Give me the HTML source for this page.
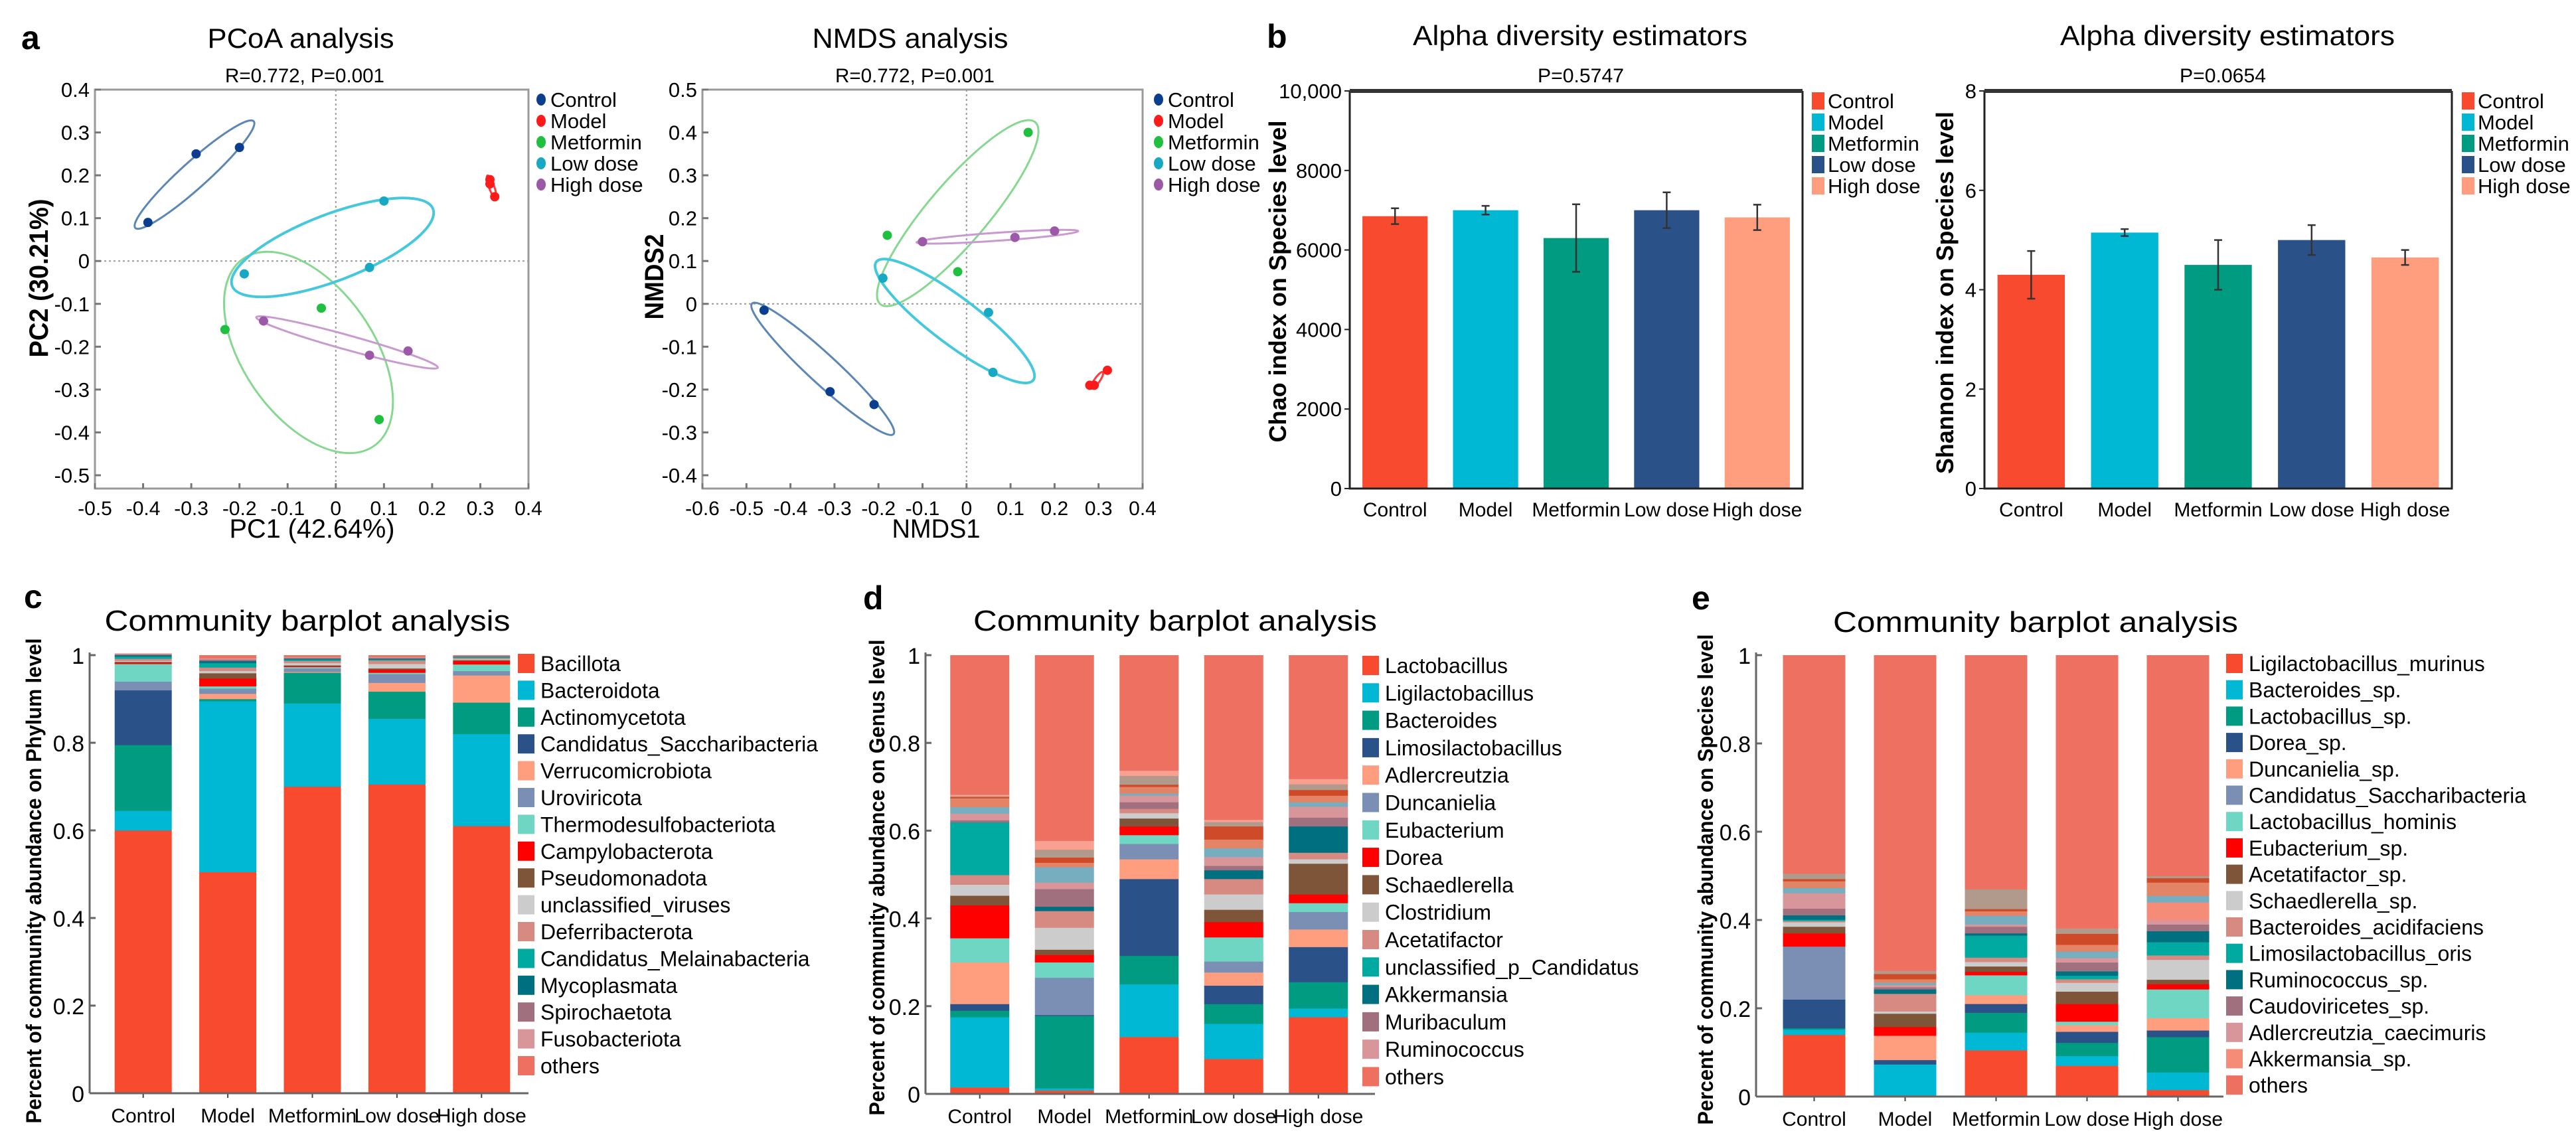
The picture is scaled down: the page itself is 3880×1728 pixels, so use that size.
<!DOCTYPE html>
<html><head><meta charset="utf-8">
<style>
html,body{margin:0;padding:0;background:#fff;}
svg{display:block;font-family:"Liberation Sans",Arial,sans-serif;}
</style></head>
<body>
<svg id="fig" width="3880" height="1728" viewBox="0 0 3880 1728" xmlns="http://www.w3.org/2000/svg">
<rect x="0" y="0" width="3880" height="1728" fill="#fff"/>
<text x="32" y="74" font-size="50" font-weight="bold">a</text>
<text x="1908" y="72" font-size="50" font-weight="bold">b</text>
<text x="36" y="916" font-size="50" font-weight="bold">c</text>
<text x="1300" y="918" font-size="50" font-weight="bold">d</text>
<text x="2548" y="918" font-size="50" font-weight="bold">e</text>
<text x="453" y="72" font-size="42" text-anchor="middle" textLength="281" lengthAdjust="spacingAndGlyphs">PCoA analysis</text>
<text x="459" y="124" font-size="30" text-anchor="middle" textLength="240" lengthAdjust="spacingAndGlyphs">R=0.772, P=0.001</text>
<text x="470" y="810" font-size="40" text-anchor="middle" textLength="249" lengthAdjust="spacingAndGlyphs">PC1 (42.64%)</text>
<text transform="translate(72,419) rotate(-90)" font-size="40" font-weight="bold" text-anchor="middle" textLength="239" lengthAdjust="spacingAndGlyphs">PC2 (30.21%)</text>
<text x="1371" y="72" font-size="42" text-anchor="middle" textLength="295" lengthAdjust="spacingAndGlyphs">NMDS analysis</text>
<text x="1378" y="124" font-size="30" text-anchor="middle" textLength="240" lengthAdjust="spacingAndGlyphs">R=0.772, P=0.001</text>
<text x="1410" y="810" font-size="40" text-anchor="middle" textLength="133" lengthAdjust="spacingAndGlyphs">NMDS1</text>
<text transform="translate(999,417) rotate(-90)" font-size="40" font-weight="bold" text-anchor="middle" textLength="129" lengthAdjust="spacingAndGlyphs">NMDS2</text>
<text x="2380" y="68" font-size="42" text-anchor="middle" textLength="504" lengthAdjust="spacingAndGlyphs">Alpha diversity estimators</text>
<text x="2381" y="124" font-size="30" text-anchor="middle" textLength="130" lengthAdjust="spacingAndGlyphs">P=0.5747</text>
<text transform="translate(1937,424) rotate(-90)" font-size="36" font-weight="bold" text-anchor="middle" textLength="485" lengthAdjust="spacingAndGlyphs">Chao index on Species level</text>
<text x="3355" y="68" font-size="42" text-anchor="middle" textLength="504" lengthAdjust="spacingAndGlyphs">Alpha diversity estimators</text>
<text x="3348" y="124" font-size="30" text-anchor="middle" textLength="130" lengthAdjust="spacingAndGlyphs">P=0.0654</text>
<text transform="translate(2942,441) rotate(-90)" font-size="36" font-weight="bold" text-anchor="middle" textLength="546" lengthAdjust="spacingAndGlyphs">Shannon index on Species level</text>
<text x="463" y="950" font-size="44" text-anchor="middle" textLength="611" lengthAdjust="spacingAndGlyphs">Community barplot analysis</text>
<text transform="translate(62,1327) rotate(-90)" font-size="32" font-weight="bold" text-anchor="middle" textLength="731" lengthAdjust="spacingAndGlyphs">Percent of community abundance on Phylum level</text>
<text x="1770" y="950" font-size="44" text-anchor="middle" textLength="608" lengthAdjust="spacingAndGlyphs">Community barplot analysis</text>
<text transform="translate(1332,1322) rotate(-90)" font-size="32" font-weight="bold" text-anchor="middle" textLength="717" lengthAdjust="spacingAndGlyphs">Percent of community abundance on Genus level</text>
<text x="3066" y="952" font-size="44" text-anchor="middle" textLength="610" lengthAdjust="spacingAndGlyphs">Community barplot analysis</text>
<text transform="translate(2580,1325) rotate(-90)" font-size="32" font-weight="bold" text-anchor="middle" textLength="739" lengthAdjust="spacingAndGlyphs">Percent of community abundance on Species level</text>
<g id="pcoa"></g>
<g id="nmds"></g>
<g id="chao"></g>
<g id="shannon"></g>
<g id="phylum"></g>
<g id="genus"></g>
<g id="species"></g>
</svg>
<script>
const groups = ["Control","Model","Metformin","Low dose","High dose"];
const pcoaX = [[-0.39,-0.29,-0.20],[0.32,0.33,0.32],[-0.23,-0.03,0.09],[-0.19,0.07,0.10],[-0.15,0.07,0.15]];
const pcoaY = [[0.09,0.25,0.265],[0.18,0.15,0.19],[-0.16,-0.11,-0.37],[-0.03,-0.015,0.14],[-0.14,-0.22,-0.21]];
const nmdsX = [[-0.46,-0.31,-0.21],[0.29,0.32,0.28],[-0.18,-0.02,0.14],[-0.19,0.05,0.06],[-0.10,0.11,0.20]];
const nmdsY = [[-0.015,-0.205,-0.235],[-0.19,-0.155,-0.19],[0.16,0.075,0.40],[0.06,-0.02,-0.16],[0.145,0.155,0.17]];
const pcoaXTicks = [-0.5,-0.4,-0.3,-0.2,-0.1,0,0.1,0.2,0.3,0.4];
const pcoaYTicks = [0.4,0.3,0.2,0.1,0,-0.1,-0.2,-0.3,-0.4,-0.5];
const nmdsXTicks = [-0.6,-0.5,-0.4,-0.3,-0.2,-0.1,0,0.1,0.2,0.3,0.4];
const nmdsYTicks = [0.5,0.4,0.3,0.2,0.1,0,-0.1,-0.2,-0.3,-0.4];

const chaoMean = [6850,7000,6300,7000,6820];
const chaoErr = [200,110,850,450,320];
const chaoTicks = [0,2000,4000,6000,8000,10000];
const chaoTickLabels = ["0","2000","4000","6000","8000","10,000"];
const shannonMean = [4.30,5.15,4.50,5.00,4.65];
const shannonErr = [0.48,0.07,0.50,0.30,0.15];
const shannonTicks = [0,2,4,6,8];

const stackTicks = [0,0.2,0.4,0.6,0.8,1];
const stackTickLabels = ["0","0.2","0.4","0.6","0.8","1"];

const phylumNames = ["Bacillota","Bacteroidota","Actinomycetota","Candidatus_Saccharibacteria","Verrucomicrobiota","Uroviricota","Thermodesulfobacteriota","Campylobacterota","Pseudomonadota","unclassified_viruses","Deferribacterota","Candidatus_Melainabacteria","Mycoplasmata","Spirochaetota","Fusobacteriota"];
const phylumValues = [
 [0.600,0.505,0.700,0.705,0.610],
 [0.045,0.390,0.190,0.150,0.210],
 [0.150,0.005,0.070,0.062,0.072],
 [0.125,0.000,0.000,0.000,0.000],
 [0.000,0.012,0.002,0.020,0.062],
 [0.020,0.012,0.008,0.020,0.010],
 [0.040,0.005,0.003,0.003,0.015],
 [0.003,0.018,0.002,0.007,0.008],
 [0.002,0.012,0.002,0.003,0.002],
 [0.002,0.005,0.005,0.010,0.002],
 [0.005,0.008,0.005,0.008,0.003],
 [0.005,0.010,0.003,0.002,0.002],
 [0.003,0.005,0.002,0.002,0.001],
 [0.002,0.003,0.002,0.002,0.001],
 [0.002,0.003,0.002,0.002,0.001]];

const genusNames = ["Lactobacillus","Ligilactobacillus","Bacteroides","Limosilactobacillus","Adlercreutzia","Duncanielia","Eubacterium","Dorea","Schaedlerella","Clostridium","Acetatifactor","unclassified_p_Candidatus","Akkermansia","Muribaculum","Ruminococcus"];
const genusValues = [
 [0.015,0.008,0.130,0.080,0.175],
 [0.160,0.005,0.120,0.080,0.020],
 [0.015,0.165,0.065,0.045,0.060],
 [0.015,0.002,0.175,0.042,0.080],
 [0.095,0.000,0.045,0.030,0.040],
 [0.000,0.085,0.035,0.025,0.040],
 [0.055,0.035,0.020,0.055,0.020],
 [0.075,0.017,0.020,0.035,0.020],
 [0.022,0.012,0.018,0.028,0.070],
 [0.025,0.050,0.012,0.035,0.010],
 [0.022,0.038,0.010,0.035,0.015],
 [0.120,0.000,0.000,0.000,0.000],
 [0.000,0.010,0.000,0.020,0.060],
 [0.005,0.040,0.015,0.010,0.020],
 [0.015,0.015,0.015,0.020,0.025]];
const genusMinor = [
 [0.015,0.035,0.005,0.020,0.010],
 [0.020,0.010,0.015,0.020,0.015],
 [0.003,0.012,0.005,0.030,0.013],
 [0.002,0.018,0.020,0.010,0.013],
 [0.003,0.020,0.012,0.005,0.012]];

const speciesNames = ["Ligilactobacillus_murinus","Bacteroides_sp.","Lactobacillus_sp.","Dorea_sp.","Duncanielia_sp.","Candidatus_Saccharibacteria","Lactobacillus_hominis","Eubacterium_sp.","Acetatifactor_sp.","Schaedlerella_sp.","Bacteroides_acidifaciens","Limosilactobacillus_oris","Ruminococcus_sp.","Caudoviricetes_sp.","Adlercreutzia_caecimuris","Akkermansia_sp."];
const speciesValues = [
 [0.140,0.003,0.105,0.070,0.015],
 [0.012,0.070,0.040,0.022,0.040],
 [0.003,0.000,0.045,0.030,0.080],
 [0.065,0.010,0.020,0.025,0.015],
 [0.000,0.055,0.020,0.015,0.028],
 [0.120,0.000,0.000,0.000,0.000],
 [0.000,0.000,0.045,0.008,0.065],
 [0.030,0.020,0.008,0.040,0.012],
 [0.015,0.030,0.012,0.028,0.010],
 [0.010,0.005,0.010,0.020,0.045],
 [0.003,0.040,0.010,0.008,0.010],
 [0.003,0.000,0.050,0.008,0.030],
 [0.010,0.010,0.005,0.010,0.025],
 [0.015,0.005,0.015,0.020,0.015],
 [0.035,0.005,0.005,0.010,0.010],
 [0.000,0.000,0.000,0.000,0.040]];
const speciesMinor = [
 [0.012,0.005,0.020,0.015,0.015],
 [0.015,0.008,0.010,0.015,0.030],
 [0.005,0.012,0.005,0.025,0.010],
 [0.012,0.007,0.045,0.012,0.005]];

const ptColors = ["#0b3e8e","#ff1a1a","#1fbf3f","#17a8c4","#9b59a8"];
const ellColors = ["#5b86b5","#ff3a3a","#86d890","#45c8dc","#c99ad0"];
const barColors = ["#f84a2f","#00b8d4","#009b80","#2a5288","#ff9e7f"];
const taxColors = ["#f84a2f","#00b8d4","#009b80","#2a5288","#ff9e7f","#7b8fb5","#6fd6c4","#ff0000","#7f5539","#cccccc","#d68a82","#00aaa0","#007080","#a0707f","#d8959a","#f58c78"];
const minorColors = ["#77aebf","#e38467","#cf4a28","#b1998b","#f9a090"];
const othersColor = "#ee7060";
const NS = "http://www.w3.org/2000/svg";
function mk(tag, parent, a){const e=document.createElementNS(NS,tag);for(const k in a)e.setAttribute(k,a[k]);parent.appendChild(e);return e;}

function scatter(gid, xs, ys, xT, yT, c, ell){
  const g=document.getElementById(gid);
  const sx=v=>c.x0+(v-c.xmin)/(c.xmax-c.xmin)*(c.x1-c.x0);
  const sy=v=>c.y0+(c.ymax-v)/(c.ymax-c.ymin)*(c.y1-c.y0);
  let f=mk('rect',g,{x:c.x0,y:c.y0,width:c.x1-c.x0,height:c.y1-c.y0,fill:'none',stroke:'#9a9a9a','stroke-width':3});
  
  
  let zx=mk('line',g,{x1:c.x0,x2:c.x1,y1:sy(0),y2:sy(0),stroke:'#999','stroke-width':2,'stroke-dasharray':'3,4'});
  
  
  let zy=mk('line',g,{x1:sx(0),x2:sx(0),y1:c.y0,y2:c.y1,stroke:'#999','stroke-width':2,'stroke-dasharray':'3,4'});
  
  
  xT.forEach(v=>{
    const t=mk('line',g,{x1:sx(v),x2:sx(v),y1:c.y1,y2:c.y1-8,stroke:'#777','stroke-width':3});
    
    
    const l=mk('text',g,{x:sx(v),y:c.y1+40,'font-size':30,'text-anchor':'middle'});
    l.textContent=String(v);
    
    
  });
  yT.forEach(v=>{
    const t=mk('line',g,{x1:c.x0,x2:c.x0+9,y1:sy(v),y2:sy(v),stroke:'#777','stroke-width':3});
    
    
    const l=mk('text',g,{x:c.x0-8,y:sy(v)+11,'font-size':31,'text-anchor':'end'});
    l.textContent=String(v);
    
    
  });
  groups.forEach((gn,i)=>{
    const mx=xs[i].reduce((a,b)=>a+b,0)/xs[i].length, my=ys[i].reduce((a,b)=>a+b,0)/ys[i].length;
    const cx=sx(mx), cy=sy(my);
    const e=mk('ellipse',g,{cx:cx,cy:cy,rx:ell.rx[i],ry:ell.ry[i],fill:'none',stroke:ellColors[i],'stroke-width':i==3?4:3,transform:`rotate(${ell.ang[i]} ${cx} ${cy})`});
    
    
  });
  groups.forEach((gn,i)=>{
    xs[i].forEach((v,j)=>{
      const p=mk('circle',g,{cx:sx(v),cy:sy(ys[i][j]),r:7,fill:ptColors[i]});
      
      
    });
  });
  groups.forEach((gn,i)=>{
    const y=c.ly+i*32;
    const d=mk('ellipse',g,{cx:c.lx,cy:y,rx:7,ry:9,fill:ptColors[i]});
    
    
    const t=mk('text',g,{x:c.lx+14,y:y+11,'font-size':31});
    t.textContent=gn;
    
    
  });
}
scatter('pcoa',pcoaX,pcoaY,pcoaXTicks,pcoaYTicks,
  {x0:143,x1:796,y0:135,y1:736,xmin:-0.5,xmax:0.4,ymin:-0.531,ymax:0.4,lx:815,ly:150},
  {rx:[120,18,172,162,142],ry:[20,4,98,50,11],ang:[-42,70,55,-21,15.5]});
scatter('nmds',nmdsX,nmdsY,nmdsXTicks,nmdsYTicks,
  {x0:1058,x1:1721,y0:135,y1:736,xmin:-0.6,xmax:0.4,ymin:-0.431,ymax:0.5,lx:1745,ly:150},
  {rx:[145,15,180,148,122],ry:[22,4,45,35,6],ang:[42.7,-55,-49.6,37,-4]});

function bars(gid, mean, err, ticks, tickLabels, c){
  const g=document.getElementById(gid);
  const sy=v=>c.y1-(v-c.ymin)/(c.ymax-c.ymin)*(c.y1-c.y0);
  const step=(c.x1-c.x0)/groups.length, bw=step*0.72;
  groups.forEach((gn,i)=>{
    const cx=c.x0+step*(i+0.5);
    const b=mk('rect',g,{x:cx-bw/2,y:sy(mean[i]),width:bw,height:sy(c.ymin)-sy(mean[i]),fill:barColors[i]});
    
    
    const e=mk('path',g,{d:`M${cx},${sy(mean[i]-err[i])}V${sy(mean[i]+err[i])}M${cx-6},${sy(mean[i]-err[i])}h12M${cx-6},${sy(mean[i]+err[i])}h12`,stroke:'#333','stroke-width':2.5,fill:'none'});
    
    
    const l=mk('text',g,{x:cx,y:c.y1+42,'font-size':30,'text-anchor':'middle'});
    l.textContent=gn;
    
    
  });
  let f=mk('path',g,{d:`M${c.x0},${c.y0}V${c.y1}H${c.x1}V${c.y0}`,fill:'none',stroke:'#222','stroke-width':3});
  
  
  let top=mk('line',g,{x1:c.x0,x2:c.x1,y1:c.y0,y2:c.y0,stroke:'#333','stroke-width':6});
  
  
  ticks.forEach((v,k)=>{
    const t=mk('line',g,{x1:c.x0,x2:c.x0-8,y1:sy(v),y2:sy(v),stroke:'#222','stroke-width':2});
    
    
    const l=mk('text',g,{x:c.x0-12,y:sy(v)+11,'font-size':31,'text-anchor':'end'});
    l.textContent=tickLabels[k];
    
    
  });
  groups.forEach((gn,i)=>{
    const y=c.ly+i*32;
    const s=mk('rect',g,{x:c.lx,y:y-13,width:19,height:26,fill:barColors[i]});
    
    
    const t=mk('text',g,{x:c.lx+24,y:y+11,'font-size':31});
    t.textContent=gn;
    
    
  });
}
bars('chao',chaoMean,chaoErr,chaoTicks,chaoTickLabels,{x0:2033,x1:2715,y0:137,y1:736,ymin:0,ymax:10000,lx:2729,ly:152});
bars('shannon',shannonMean,shannonErr,shannonTicks,shannonTicks.map(String),{x0:2989,x1:3693,y0:137,y1:736,ymin:0,ymax:8,lx:3708,ly:152});

function stacked(gid, names, values, minor, c){
  const g=document.getElementById(gid);
  const sy=v=>c.y1-v*(c.y1-c.y0);
  const step=c.step, bw=c.bw;
  groups.forEach((gn,i)=>{
    const cx=c.bx+step*(i+0.5);
    let acc=0;
    const segs=[];
    values.forEach((row,k)=>segs.push([row[i],taxColors[k],names[k]]));
    minor.forEach((row,k)=>segs.push([row[i],minorColors[k],'minor-taxon']));
    const tot=segs.reduce((a,s)=>a+s[0],0);
    segs.push([Math.max(0,1-tot),othersColor,'others']);
    segs.forEach(s=>{
      if(s[0]<=0) return;
      const r=mk('rect',g,{x:cx-bw/2,y:sy(acc+s[0]),width:bw,height:sy(acc)-sy(acc+s[0])+0.3,fill:s[1]});
      
      
      acc+=s[0];
    });
    const t=mk('line',g,{x1:cx,x2:cx,y1:c.y1,y2:c.y1+7,stroke:'#444','stroke-width':2});
    
    
    const l=mk('text',g,{x:cx,y:c.y1+44,'font-size':30,'text-anchor':'middle'});
    l.textContent=gn;
    
    
  });
  let ax=mk('line',g,{x1:c.ax,x2:c.ax,y1:c.y0-4,y2:c.y1,stroke:'#666','stroke-width':3});
  
  
  let bx=mk('line',g,{x1:c.ax,x2:c.axEnd,y1:c.y1,y2:c.y1,stroke:'#666','stroke-width':3});
  
  
  stackTicks.forEach((v,k)=>{
    const t=mk('line',g,{x1:c.ax,x2:c.ax+9,y1:sy(v),y2:sy(v),stroke:'#666','stroke-width':3});
    
    
    const l=mk('text',g,{x:c.ax-8,y:sy(v)+13,'font-size':34,'text-anchor':'end'});
    l.textContent=stackTickLabels[k];
    
    
  });
  const leg=names.concat(['others']);
  leg.forEach((n,k)=>{
    const y=c.ly+k*c.lsp;
    const s=mk('rect',g,{x:c.lx,y:y-14,width:25,height:29,fill:k<names.length?taxColors[k]:othersColor});
    
    
    const t=mk('text',g,{x:c.lx+34,y:y+12,'font-size':32});
    t.textContent=n;
    
    
  });
}
stacked('phylum',phylumNames,phylumValues,[],{ax:135,axEnd:796,y0:987,y1:1647,bx:152,step:127.4,bw:86,lx:780,ly:999,lsp:40.4});
stacked('genus',genusNames,genusValues,genusMinor,{ax:1394,axEnd:2071,y0:987,y1:1648,bx:1412,step:127.5,bw:89,lx:2052,ly:1002,lsp:41.3});
stacked('species',speciesNames,speciesValues,speciesMinor,{ax:2645,axEnd:3349,y0:987,y1:1652,bx:2664,step:137,bw:94,lx:3353,ly:999,lsp:39.7});
</script>
</body></html>
